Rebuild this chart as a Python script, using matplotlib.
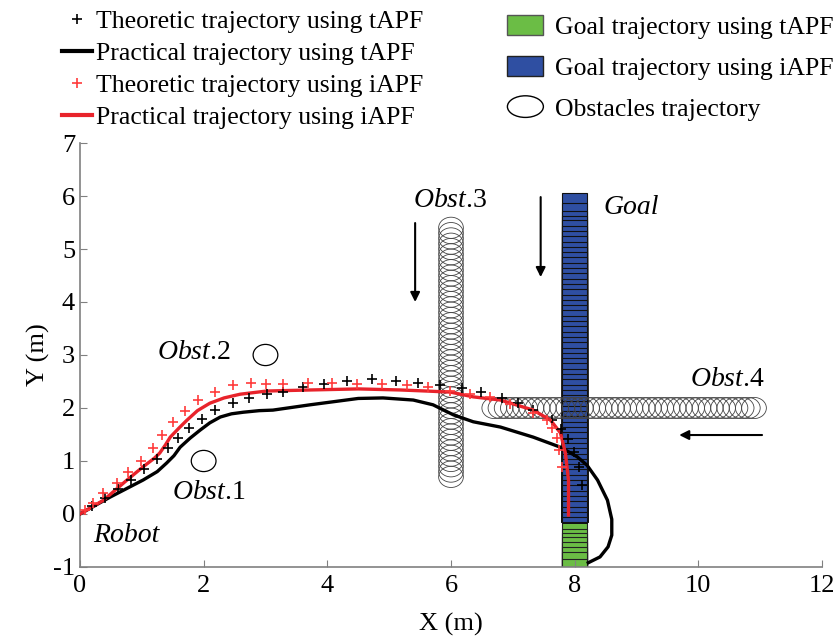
import matplotlib
matplotlib.use("Agg")
import matplotlib.pyplot as plt
from matplotlib.lines import Line2D
from matplotlib.patches import Ellipse, Patch
from matplotlib.legend_handler import HandlerPatch

plt.rcParams['font.family'] = 'Liberation Serif'
plt.rcParams['mathtext.fontset'] = 'custom'
plt.rcParams['mathtext.it'] = 'Liberation Serif:italic'
plt.rcParams['mathtext.rm'] = 'Liberation Serif'
plt.rcParams['axes.unicode_minus'] = False

# practical trajectories
tapf_x = [0, 0.49, 1.02, 1.25, 1.4, 1.52, 1.62, 1.78, 1.94, 2.1, 2.27, 2.45, 2.64, 2.9,
          3.12, 3.72, 4.5, 4.9, 5.39, 5.71, 6.04, 6.36, 6.8, 7.33, 7.77, 8.04, 8.2, 8.37,
          8.53, 8.6, 8.6, 8.54, 8.41, 8.22]
tapf_y = [0, 0.32, 0.64, 0.8, 0.96, 1.1, 1.26, 1.43, 1.58, 1.72, 1.83, 1.89, 1.92, 1.95,
          1.96, 2.06, 2.18, 2.19, 2.15, 2.06, 1.87, 1.74, 1.64, 1.45, 1.26, 1.08, 0.92, 0.64,
          0.26, -0.1, -0.4, -0.62, -0.81, -0.92]

iapf_x = [0, 0.38, 0.76, 1.02, 1.2, 1.29, 1.38, 1.46, 1.6, 1.73, 1.9, 2.1, 2.33, 2.59,
          3.02, 3.72, 4.5, 5.18, 5.6, 5.99, 6.36, 6.8, 7.33, 7.61, 7.77, 7.85, 7.9, 7.9]
iapf_y = [0, 0.26, 0.64, 0.89, 1.05, 1.15, 1.3, 1.45, 1.62, 1.77, 1.95, 2.09, 2.19, 2.26,
          2.32, 2.34, 2.36, 2.34, 2.32, 2.3, 2.21, 2.15, 1.96, 1.77, 1.53, 1.15, 0.64, -0.02]

# theoretic trajectories
tapf_th_x = [0.19, 0.4, 0.61, 0.82, 1.04, 1.24, 1.43, 1.58, 1.77, 1.97, 2.19, 2.47, 2.74,
             3.02, 3.29, 3.61, 3.94, 4.32, 4.72, 5.11, 5.47, 5.83, 6.18, 6.49, 6.83, 7.09,
             7.33, 7.64, 7.78, 7.9, 7.99, 8.07, 8.12]
tapf_th_y = [0.15, 0.31, 0.47, 0.64, 0.85, 1.04, 1.25, 1.43, 1.62, 1.79, 1.96, 2.09, 2.19,
             2.26, 2.3, 2.39, 2.46, 2.51, 2.55, 2.51, 2.48, 2.43, 2.37, 2.3, 2.19, 2.09,
             1.96, 1.77, 1.6, 1.42, 1.17, 0.89, 0.55]

iapf_th_x = [0.08, 0.21, 0.38, 0.6, 0.78, 0.99, 1.18, 1.33, 1.5, 1.7, 1.91, 2.19, 2.48, 2.76,
             3.01, 3.29, 3.69, 4.08, 4.48, 4.89, 5.29, 5.63, 5.98, 6.31, 6.63, 6.96, 7.33,
             7.56, 7.64, 7.72, 7.75, 7.8]
iapf_th_y = [0.08, 0.2, 0.4, 0.58, 0.79, 1.0, 1.25, 1.49, 1.74, 1.94, 2.15, 2.3, 2.43, 2.47,
             2.46, 2.45, 2.47, 2.47, 2.45, 2.45, 2.43, 2.4, 2.32, 2.26, 2.2, 2.08, 1.9,
             1.77, 1.62, 1.43, 1.21, 0.89]

# goal trajectory (tops of goal boxes at x = 8)
goal_x = 8.0
goal_iapf_bottom = -0.16
goal_iapf_top = [6.06, 5.87, 5.71, 5.63, 5.54, 5.44, 5.34, 5.24, 5.14, 5.04, 4.94, 4.84,
                 4.74, 4.64, 4.54, 4.44, 4.34, 4.24, 4.14, 4.04, 3.94, 3.84, 3.74, 3.64,
                 3.54, 3.44, 3.34, 3.24, 3.14, 3.04, 2.94, 2.84, 2.74, 2.64, 2.54, 2.44,
                 2.34, 2.24, 2.14, 2.04, 1.94, 1.84, 1.74, 1.64, 1.54, 1.44, 1.34, 1.24,
                 1.14, 1.04, 0.94, 0.84, 0.74, 0.64, 0.54, 0.44, 0.34, 0.24, 0.14, 0.04, -0.06]
goal_tapf_bottom = -1.0
goal_tapf_top = [-0.16, -0.29, -0.35, -0.44, -0.52, -0.62, -0.71, -0.85]

# static obstacles
obst1 = (2.0, 1.0)
obst2 = (3.0, 3.0)
# moving obstacles
obst3_x = 6.0
obst3_y = [5.4, 5.3, 5.2, 5.1, 5.0, 4.9, 4.8, 4.7, 4.6, 4.5, 4.4, 4.3, 4.2, 4.1, 4.0, 3.9,
           3.8, 3.7, 3.6, 3.5, 3.4, 3.3, 3.2, 3.1, 3.0, 2.9, 2.8, 2.7, 2.6, 2.5, 2.4, 2.3,
           2.2, 2.1, 2.0, 1.9, 1.8, 1.7, 1.6, 1.5, 1.4, 1.3, 1.2, 1.1, 1.0, 0.9, 0.8, 0.7]
obst4_y = 2.0
obst4_x = [10.9, 10.8, 10.7, 10.6, 10.5, 10.4, 10.3, 10.2, 10.1, 10.0, 9.9, 9.8, 9.7, 9.6,
           9.5, 9.4, 9.3, 9.2, 9.1, 9.0, 8.9, 8.8, 8.7, 8.6, 8.5, 8.4, 8.3, 8.2, 8.1, 8.0,
           7.9, 7.8, 7.7, 7.6, 7.5, 7.4, 7.3, 7.2, 7.1, 7.0, 6.9, 6.8, 6.7]
obst_d = 0.4

green = '#6bbd45'
blue = '#2f4fa2'
red = '#e8232b'

fig = plt.figure(figsize=(8.4, 6.39), dpi=100)
ax = fig.add_axes([0.0952, 0.1127, 0.8834, 0.6635])

for t in goal_tapf_top:
    ax.bar(goal_x, t - goal_tapf_bottom, bottom=goal_tapf_bottom, width=0.4,
           color=green, edgecolor='#222222', lw=0.8, zorder=1)
for t in goal_iapf_top:
    ax.bar(goal_x, t - goal_iapf_bottom, bottom=goal_iapf_bottom, width=0.4,
           color=blue, edgecolor='#111111', lw=0.8, zorder=1)

for c in (obst1, obst2):
    ax.add_patch(Ellipse(c, obst_d, obst_d, fc='none', ec='k', lw=0.9, zorder=2))
for y in obst3_y:
    ax.add_patch(Ellipse((obst3_x, y), obst_d, obst_d, fc='none', ec='#444444', lw=0.6, zorder=2))
for x in obst4_x:
    ax.add_patch(Ellipse((x, obst4_y), obst_d, obst_d, fc='none', ec='#444444', lw=0.6, zorder=2))

ax.plot(tapf_x, tapf_y, color='k', lw=2.4, zorder=3)
ax.plot(iapf_x, iapf_y, color=red, lw=2.4, zorder=4)
ax.plot(tapf_th_x, tapf_th_y, ls='none', marker='+', color='k', ms=7, mew=1.2, zorder=5)
ax.plot(iapf_th_x, iapf_th_y, ls='none', marker='+', color='#ff3b3b', ms=7, mew=1.2, zorder=5)

arrow = dict(arrowstyle='-|>', color='k', lw=1.5, mutation_scale=14, shrinkA=0, shrinkB=0)
ax.annotate('', xy=(5.42, 4.0), xytext=(5.42, 5.49), arrowprops=arrow)
ax.annotate('', xy=(7.45, 4.47), xytext=(7.45, 5.98), arrowprops=arrow)
ax.annotate('', xy=(9.69, 1.49), xytext=(11.03, 1.49), arrowprops=arrow)

lab = dict(fontsize=20, va='center', ha='left')
ax.text(1.25, 3.04, r'$\mathit{Obst}$.2', **lab)
ax.text(1.49, 0.4, r'$\mathit{Obst}$.1', **lab)
ax.text(5.39, 5.92, r'$\mathit{Obst}$.3', **lab)
ax.text(9.87, 2.53, r'$\mathit{Obst}$.4', **lab)
ax.text(0.21, -0.4, 'Robot', style='italic', **lab)
ax.text(8.46, 5.79, 'Goal', style='italic', **lab)

ax.set_xlim(0, 12)
ax.set_ylim(-1, 7)
ax.set_xticks([0, 2, 4, 6, 8, 10, 12])
ax.set_yticks([-1, 0, 1, 2, 3, 4, 5, 6, 7])
ax.tick_params(direction='in', length=5, labelsize=19, color='#808080')
ax.tick_params(axis='x', pad=6)
ax.set_xlabel('X (m)', fontsize=19, labelpad=11)
ax.set_ylabel('Y (m)', fontsize=19, labelpad=2)
for s in ('top', 'right'):
    ax.spines[s].set_visible(False)
for s in ('left', 'bottom'):
    ax.spines[s].set_color('#808080')
    ax.spines[s].set_linewidth(1.2)

# legends
h_left = [Line2D([], [], ls='none', marker='+', color='k', ms=7, mew=1.2),
          Line2D([], [], color='k', lw=3),
          Line2D([], [], ls='none', marker='+', color='#ff3b3b', ms=7, mew=1.2),
          Line2D([], [], color=red, lw=3)]
l_left = ['Theoretic trajectory using tAPF', 'Practical trajectory using tAPF',
          'Theoretic trajectory using iAPF', 'Practical trajectory using iAPF']
leg1 = fig.legend(h_left, l_left, loc='upper left', bbox_to_anchor=(0.071, 0.988),
                  frameon=False, fontsize=18.5, handlelength=1.15, handletextpad=0.15,
                  labelspacing=0.35, borderpad=0.1, borderaxespad=0)


def make_ellipse(legend, orig_handle, xdescent, ydescent, width, height, fontsize):
    return Ellipse((0.5 * width - xdescent, 0.5 * height - ydescent), width, height * 1.1)


h_right = [Patch(fc=green, ec='#555555'), Patch(fc=blue, ec='#222222'),
           Patch(fc='none', ec='k')]
l_right = ['Goal trajectory using tAPF', 'Goal trajectory using iAPF', 'Obstacles trajectory']
leg2 = fig.legend(h_right, l_right, loc='upper left', bbox_to_anchor=(0.601, 0.98),
                  frameon=False, fontsize=18.5, handlelength=1.4, handleheight=0.8,
                  handletextpad=0.45, labelspacing=0.66, borderpad=0.1, borderaxespad=0,
                  handler_map={h_right[2]: HandlerPatch(patch_func=make_ellipse)})

fig.savefig('out.png', dpi=100)
